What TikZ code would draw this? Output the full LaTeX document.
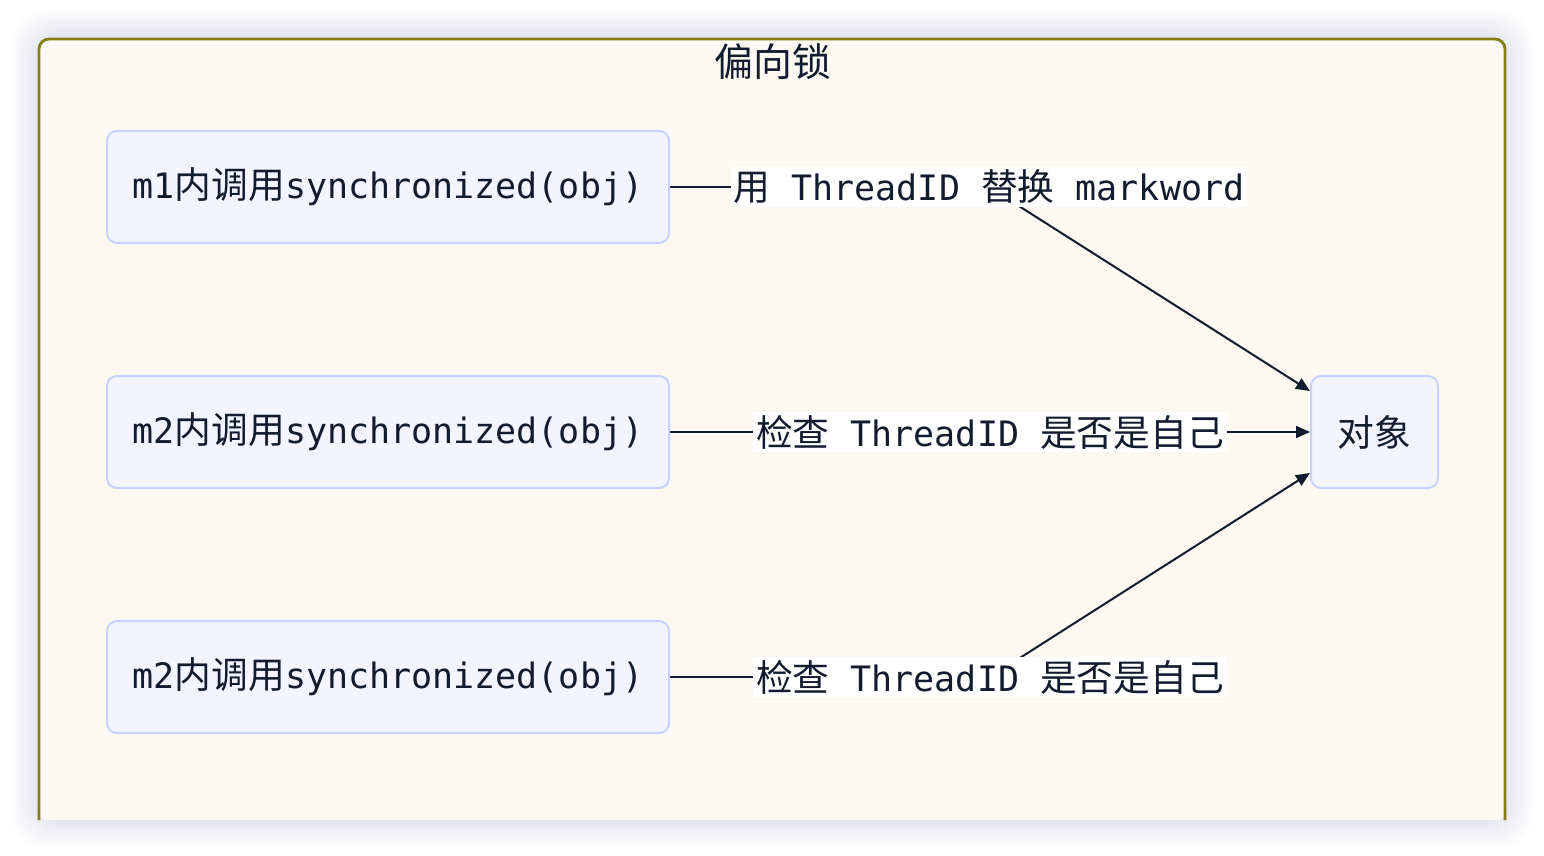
\documentclass[tikz,border=0pt]{standalone}
\usepackage{fontspec}
\setmonofont{DejaVu Sans Mono}
\newfontfamily\cjk{Noto Sans CJK SC}[Scale=1.05]
\usetikzlibrary{arrows.meta}
\definecolor{txt}{HTML}{131B2E}
\definecolor{nodefill}{HTML}{F4F4FF}
\definecolor{nodeborder}{HTML}{C9D2FF}
\definecolor{clusterfill}{HTML}{FBF9F1}
\definecolor{clusterborder}{HTML}{7F7F14}
\definecolor{shadowcol}{HTML}{B4B4DC}
\pgfdeclarelayer{bg}
\pgfdeclarelayer{edges}
\pgfsetlayers{bg,edges,main}
\begin{document}
\begin{tikzpicture}[x=0.5pt,y=-0.5pt,
  box/.style={draw=nodeborder, fill=nodefill, line width=1pt, rounded corners=5pt,
    minimum height=56pt, text=txt, font=\fontsize{17.5}{20}\selectfont\ttfamily, inner sep=0pt},
  edgelabel/.style={fill=white, inner sep=1.5pt, text=txt, font=\fontsize{17.5}{20}\selectfont\ttfamily},
  conn/.style={draw=txt, line width=1pt},
  arr/.style={conn, -{Triangle[length=7pt,width=6pt]}}]
\useasboundingbox (0,0) rectangle (1544,856);
\begin{pgfonlayer}{bg}
\fill[white] (0,0) rectangle (1544,856);
\foreach \i in {26,23,...,2} {
  \fill[shadowcol, opacity=0.04, rounded corners=16pt] (38-\i,38-\i) rectangle (1506+\i,820+\i);
}
\fill[clusterfill, rounded corners=5pt] (38,820) -- (38,38) -- (1506,38) -- (1506,820) -- cycle;
\draw[clusterborder, line width=1.4pt, rounded corners=5pt] (39,820) -- (39,39) -- (1505,39) -- (1505,820);
\end{pgfonlayer}
\node[text=txt, font=\fontsize{18.5}{22}\selectfont\cjk] (title) at (773,62) {偏向锁};
\node[box, minimum width=281pt] (m1) at (388,187) {m1{\cjk 内调用}synchronized(obj)};
\node[box, minimum width=281pt] (m2a) at (388,432) {m2{\cjk 内调用}synchronized(obj)};
\node[box, minimum width=281pt] (m2b) at (388,677) {m2{\cjk 内调用}synchronized(obj)};
\node[box, minimum width=63.5pt] (obj) at (1374.5,432) {{\cjk 对象}};
\node[edgelabel] (l1) at (989,187) {{\cjk 用} ThreadID {\cjk 替换} markword};
\node[edgelabel] (l2) at (990,432) {{\cjk 检查} ThreadID {\cjk 是否是自己}};
\node[edgelabel] (l3) at (990,677) {{\cjk 检查} ThreadID {\cjk 是否是自己}};
\begin{pgfonlayer}{edges}
\draw[conn] (m1) -- (l1.center);
\draw[arr] (l1.center) -- (obj);
\draw[conn] (m2a) -- (l2.center);
\draw[arr] (l2.center) -- (obj);
\draw[conn] (m2b) -- (l3.center);
\draw[arr] (l3.center) -- (obj);
\end{pgfonlayer}
\end{tikzpicture}
\end{document}
